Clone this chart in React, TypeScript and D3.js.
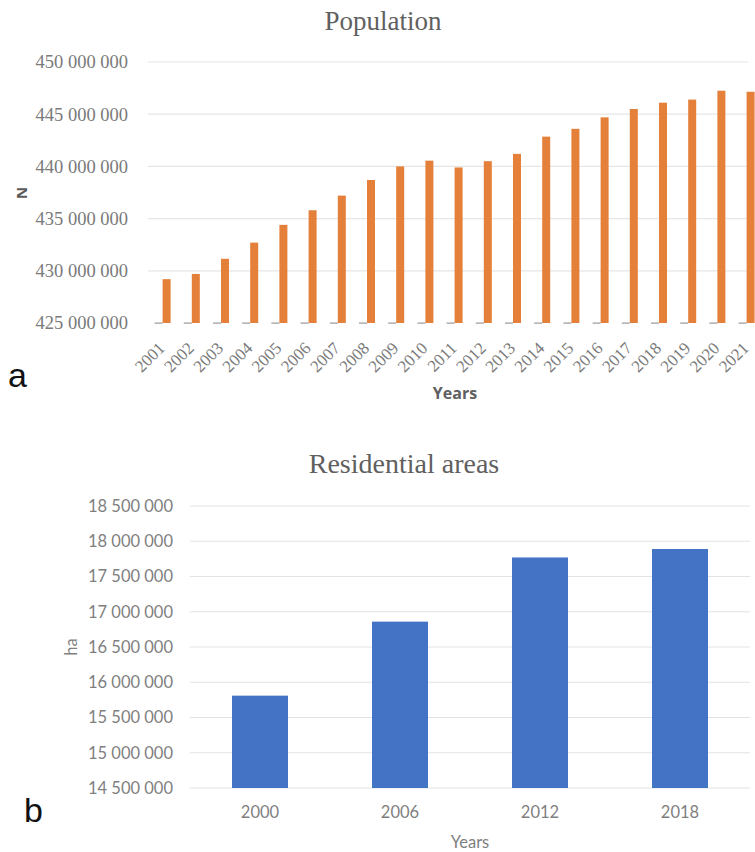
import React, { useEffect } from "react";
import * as d3 from "d3";

const popYears = ["2001","2002","2003","2004","2005","2006","2007","2008","2009","2010","2011","2012","2013","2014","2015","2016","2017","2018","2019","2020","2021"];
const popValues = [429.2e6,429.7e6,431.15e6,432.7e6,434.4e6,435.8e6,437.2e6,438.7e6,440.0e6,440.55e6,439.9e6,440.5e6,441.2e6,442.85e6,443.6e6,444.7e6,445.5e6,446.1e6,446.4e6,447.25e6,447.15e6];
const popTicks = [425e6,430e6,435e6,440e6,445e6,450e6];

const resYears = ["2000","2006","2012","2018"];
const resValues = [15.81e6,16.86e6,17.77e6,17.89e6];
const resTicks = [14.5e6,15e6,15.5e6,16e6,16.5e6,17e6,17.5e6,18e6,18.5e6];

const fmt = (v: number) => d3.format(",")(v).replace(/,/g, " ");

export default function App() {
  useEffect(() => {
    document.body.style.margin = "0";
  }, []);

  // Chart a
  const yA = d3.scaleLinear().domain([425e6, 450e6]).range([323, 62]);
  const xA = d3.scaleBand<string>().domain(popYears).range([148, 148 + 21 * 29.2]).padding(0);
  const bwA = xA.bandwidth();
  const groupW = 16;
  const sub = d3.scaleBand<string>().domain(["base", "pop"]).range([(bwA - groupW) / 2, (bwA + groupW) / 2]).padding(0);

  // Chart b
  const yB = d3.scaleLinear().domain([14.5e6, 18.5e6]).range([788, 506]);
  const xB = d3.scaleBand<string>().domain(resYears).range([190, 750]).paddingInner(0.6).paddingOuter(0.3);

  const serif = "'Liberation Serif', 'Times New Roman', serif";
  const sans = "'Open Sans', 'DejaVu Sans', sans-serif";
  const lato = "Lato, 'Open Sans', sans-serif";

  return (
    <svg width={755} height={852} style={{ display: "block", background: "#fff" }}>
      {/* ---------- Chart a ---------- */}
      <text x={383} y={30} textAnchor="middle" fontFamily={serif} fontSize={27} fill="#606060">Population</text>
      {popTicks.filter(t => t !== 425e6).map(t => (
        <line key={"ga" + t} x1={148} x2={748} y1={yA(t)} y2={yA(t)} stroke="#e6e6e6" strokeWidth={1.2} />
      ))}
      {popTicks.map(t => (
        <text key={"ta" + t} x={128} y={yA(t)} dy="0.35em" textAnchor="end" fontFamily={serif} fontSize={18.5} fill="#7a7a7a">{fmt(t)}</text>
      ))}
      {popYears.map((yr, i) => (
        <g key={"ba" + yr} transform={`translate(${xA(yr)},0)`}>
          <rect x={sub("base")} y={yA(425e6) - 0.5} width={sub.bandwidth()} height={1.2} fill="#9a9a9a" />
          <rect x={sub("pop")} y={yA(popValues[i])} width={sub.bandwidth()} height={yA(425e6) - yA(popValues[i])} fill="#E4803A" />
        </g>
      ))}
      {popYears.map(yr => {
        const cx = (xA(yr) as number) + bwA / 2 - 1;
        return (
          <text key={"xa" + yr} transform={`translate(${cx},345) rotate(-45)`} textAnchor="end" dy="0.35em" fontFamily={serif} fontSize={17} fill="#7a7a7a">{yr}</text>
        );
      })}
      <text transform="translate(22,193) rotate(-90)" textAnchor="middle" dy="0.35em" fontFamily={sans} fontWeight="bold" fontSize={15} fill="#595959">N</text>
      <text x={455} y={399} textAnchor="middle" fontFamily={sans} fontWeight="bold" fontSize={16} fill="#606060">Years</text>
      <text x={8} y={387} fontFamily="'Liberation Sans', Arial, sans-serif" fontSize={34} fill="#111">a</text>

      {/* ---------- Chart b ---------- */}
      <text x={404} y={473} textAnchor="middle" fontFamily={serif} fontSize={28} fill="#606060">Residential areas</text>
      {resTicks.map(t => (
        <line key={"gb" + t} x1={190} x2={750} y1={yB(t)} y2={yB(t)} stroke="#e3e3e3" strokeWidth={1.2} />
      ))}
      {resTicks.map(t => (
        <text key={"tb" + t} x={173} y={yB(t)} dy="0.35em" textAnchor="end" fontFamily={lato} fontSize={16.5} fill="#7f7f7f">{fmt(t)}</text>
      ))}
      {resYears.map((yr, i) => (
        <rect key={"bb" + yr} x={xB(yr)} y={yB(resValues[i])} width={xB.bandwidth()} height={yB(14.5e6) - yB(resValues[i])} fill="#4472C4" />
      ))}
      {resYears.map(yr => (
        <text key={"xb" + yr} x={(xB(yr) as number) + xB.bandwidth() / 2} y={818} textAnchor="middle" fontFamily={lato} fontSize={16.5} fill="#7f7f7f">{yr}</text>
      ))}
      <text transform="translate(71,647) rotate(-90)" textAnchor="middle" dy="0.35em" fontFamily={lato} fontSize={16.5} fill="#7f7f7f">ha</text>
      <text x={470} y={848} textAnchor="middle" fontFamily={lato} fontSize={16.5} fill="#7f7f7f">Years</text>
      <text x={24} y={822} fontFamily="'Liberation Sans', Arial, sans-serif" fontSize={34} fill="#111">b</text>
    </svg>
  );
}
